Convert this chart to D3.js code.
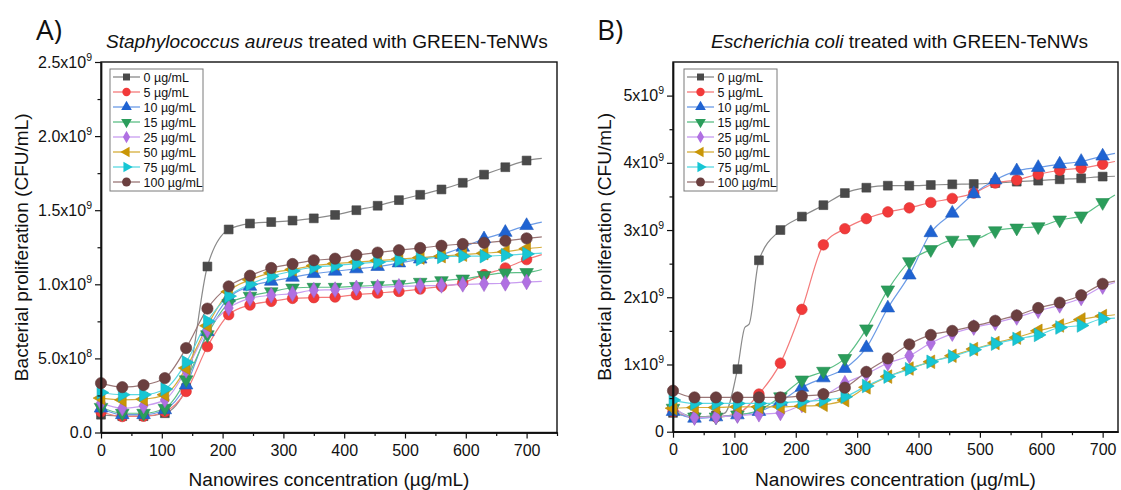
<!DOCTYPE html>
<html>
<head>
<meta charset="utf-8">
<script src="https://cdn.jsdelivr.net/npm/d3@7"></script>
<style>
  html, body { margin: 0; padding: 0; background: #fff; }
  svg { display: block; font-family: "Liberation Sans", Arial, sans-serif; }
</style>
</head>
<body>
<svg id="chart" width="1121" height="490"></svg>
<script>
// Nanowire concentrations where each growth curve carries a marker (µg/mL)
const concentrations = [0, 35, 70, 105, 140, 175, 210, 245, 280, 315, 350,
                        385, 420, 455, 490, 525, 560, 595, 630, 665, 700];
const doseLabels = ["0 µg/mL", "5 µg/mL", "10 µg/mL", "15 µg/mL",
                    "25 µg/mL", "50 µg/mL", "75 µg/mL", "100 µg/mL"];

// Staphylococcus aureus, bacterial proliferation in 10^9 CFU/mL
const aureus0   = [0.12, 0.11, 0.11, 0.13, 0.30, 1.12, 1.37, 1.41, 1.42, 1.43, 1.445, 1.468, 1.50, 1.53, 1.568, 1.604, 1.64, 1.685, 1.74, 1.79, 1.835];
const aureus5   = [0.14, 0.108, 0.11, 0.14, 0.277, 0.58, 0.795, 0.86, 0.885, 0.905, 0.91, 0.914, 0.93, 0.941, 0.952, 0.968, 0.986, 1.01, 1.065, 1.11, 1.167];
const aureus10  = [0.164, 0.12, 0.12, 0.153, 0.32, 0.68, 0.908, 0.986, 1.02, 1.047, 1.072, 1.088, 1.104, 1.12, 1.144, 1.17, 1.20, 1.25, 1.306, 1.35, 1.396];
const aureus15  = [0.17, 0.13, 0.13, 0.164, 0.356, 0.66, 0.87, 0.92, 0.95, 0.975, 0.98, 0.98, 0.986, 0.993, 1.00, 1.014, 1.025, 1.036, 1.06, 1.077, 1.08];
const aureus25  = [0.20, 0.164, 0.18, 0.22, 0.42, 0.69, 0.84, 0.905, 0.926, 0.937, 0.96, 0.964, 0.975, 0.98, 0.986, 0.99, 0.993, 1.00, 1.004, 1.007, 1.016];
const aureus50  = [0.232, 0.22, 0.225, 0.255, 0.435, 0.72, 0.95, 1.03, 1.077, 1.10, 1.126, 1.14, 1.15, 1.16, 1.17, 1.18, 1.19, 1.20, 1.21, 1.22, 1.24];
const aureus75  = [0.27, 0.255, 0.255, 0.293, 0.473, 0.75, 0.92, 1.00, 1.054, 1.09, 1.115, 1.126, 1.14, 1.149, 1.162, 1.17, 1.185, 1.19, 1.19, 1.196, 1.205];
const aureus100 = [0.333, 0.306, 0.32, 0.367, 0.57, 0.836, 0.986, 1.058, 1.11, 1.137, 1.162, 1.173, 1.198, 1.214, 1.23, 1.245, 1.26, 1.272, 1.28, 1.293, 1.31];
// last recorded reading of each S. aureus trace
const aureusTailX = 725;
const aureusTail = [1.85, 1.20, 1.42, 1.10, 1.02, 1.25, 1.21, 1.32];

// Escherichia coli, bacterial proliferation in 10^9 CFU/mL
const coli0   = [0.28, 0.22, 0.24, 0.93, 2.55, 3.00, 3.20, 3.37, 3.55, 3.63, 3.66, 3.66, 3.67, 3.68, 3.685, 3.70, 3.72, 3.735, 3.755, 3.77, 3.795];
const coli5   = [0.30, 0.22, 0.22, 0.27, 0.56, 1.02, 1.82, 2.78, 3.02, 3.17, 3.27, 3.33, 3.41, 3.47, 3.55, 3.70, 3.745, 3.83, 3.89, 3.92, 3.98];
const coli10  = [0.30, 0.20, 0.22, 0.25, 0.30, 0.45, 0.66, 0.80, 0.94, 1.25, 1.84, 2.33, 2.96, 3.25, 3.54, 3.745, 3.88, 3.93, 3.98, 4.02, 4.10];
const coli15  = [0.35, 0.22, 0.22, 0.25, 0.32, 0.52, 0.77, 0.90, 1.09, 1.53, 2.11, 2.53, 2.71, 2.85, 2.86, 2.99, 3.03, 3.05, 3.15, 3.21, 3.41];
const coli25  = [0.37, 0.21, 0.22, 0.24, 0.26, 0.28, 0.40, 0.53, 0.72, 0.86, 1.02, 1.13, 1.32, 1.46, 1.55, 1.62, 1.70, 1.80, 1.88, 1.99, 2.16];
const coli50  = [0.35, 0.36, 0.36, 0.37, 0.37, 0.37, 0.38, 0.40, 0.47, 0.66, 0.82, 0.94, 1.04, 1.13, 1.23, 1.32, 1.40, 1.50, 1.58, 1.67, 1.72];
const coli75  = [0.47, 0.42, 0.42, 0.42, 0.42, 0.43, 0.45, 0.47, 0.52, 0.68, 0.82, 0.93, 1.04, 1.12, 1.22, 1.31, 1.38, 1.44, 1.55, 1.58, 1.68];
const coli100 = [0.61, 0.51, 0.51, 0.51, 0.51, 0.51, 0.53, 0.56, 0.655, 0.89, 1.09, 1.30, 1.44, 1.50, 1.57, 1.65, 1.73, 1.84, 1.92, 2.03, 2.20];
const coliTailX = 720;
const coliTail = [3.80, 4.02, 4.14, 3.52, 2.22, 1.74, 1.69, 2.24];
// extra readings of the untreated E. coli trace around its two-step rise
const coli0Shoulder = [[85, 0.28], [117, 1.55], [124, 1.60]];

// y tick labels: mantissa and power of ten
const aureusYTicks = [0, 0.5, 1.0, 1.5, 2.0, 2.5];
const aureusYLabels = [["0.0", ""], ["5.0x10", "8"], ["1.0x10", "9"], ["1.5x10", "9"], ["2.0x10", "9"], ["2.5x10", "9"]];
const coliYTicks = [0, 1, 2, 3, 4, 5];
const coliYLabels = [["0", ""], ["1x10", "9"], ["2x10", "9"], ["3x10", "9"], ["4x10", "9"], ["5x10", "9"]];
const xTicks = [0, 100, 200, 300, 400, 500, 600, 700];

// series appearance
const styles = [
  { marker: "#4a4a4a", line: "#8a8a8a", shape: d3.symbolSquare,   rot: 0,   size: 78 },
  { marker: "#f23a3a", line: "#f47a7a", shape: d3.symbolCircle,   rot: 0,   size: 88 },
  { marker: "#1f63d2", line: "#6b9be6", shape: d3.symbolTriangle, rot: 0,   size: 80 },
  { marker: "#2b9d5b", line: "#5cbf86", shape: d3.symbolTriangle, rot: 180, size: 80 },
  { marker: "#b070e2", line: "#c89cf0", shape: d3.symbolDiamond,  rot: 0,   size: 72 },
  { marker: "#c99606", line: "#d6ad3a", shape: d3.symbolTriangle, rot: -90, size: 80 },
  { marker: "#17c6d4", line: "#5ad8e2", shape: d3.symbolTriangle, rot: 90,  size: 80 },
  { marker: "#6b3f3f", line: "#9a7676", shape: d3.symbolCircle,   rot: 0,   size: 100 }
];

const svg = d3.select("#chart");

// scale a text element's font so that it spans the given width
function fitText(sel, width, base) {
  const w = sel.node().getComputedTextLength();
  const size = base * width / w;
  sel.attr("font-size", size);
  return size;
}

function drawPanel(cfg) {
  const g = svg.append("g");
  const x = d3.scaleLinear().domain([0, cfg.xMax]).range([cfg.left, cfg.right]);
  const y = d3.scaleLinear().domain([0, cfg.yMax]).range([cfg.bottom, cfg.top]);

  // growth traces
  const line = d3.line().x(d => x(d[0])).y(d => y(d[1])).curve(d3.curveMonotoneX);
  cfg.series.forEach((vals, i) => {
    let pts = concentrations.map((c, j) => [c, vals[j]]);
    if (cfg.extra && cfg.extra[i]) pts = pts.concat(cfg.extra[i]);
    pts.push([cfg.tailX, cfg.tail[i]]);
    pts.sort((a, b) => a[0] - b[0]);
    g.append("path").attr("d", line(pts))
      .attr("fill", "none").attr("stroke", styles[i].line).attr("stroke-width", 1.2);
  });
  cfg.series.forEach((vals, i) => {
    const st = styles[i];
    const sym = d3.symbol().type(st.shape).size(st.size);
    g.append("g").selectAll("path").data(concentrations.map((c, j) => [c, vals[j]]))
      .join("path")
      .attr("d", sym)
      .attr("transform", d => `translate(${x(d[0])},${y(d[1])}) rotate(${st.rot})`)
      .attr("fill", st.marker)
      .attr("stroke", d3.color(st.marker).darker(0.3))
      .attr("stroke-width", 0.6);
  });

  // frame
  g.append("rect").attr("x", cfg.left).attr("y", cfg.top)
    .attr("width", cfg.right - cfg.left).attr("height", cfg.bottom - cfg.top)
    .attr("fill", "none").attr("stroke", "#111").attr("stroke-width", 1.4);

  // x axis
  const xMinor = d3.range(50, cfg.xMax + 1, 100);
  const xa = g.append("g").attr("transform", `translate(0,${cfg.bottom})`)
    .call(d3.axisBottom(x).tickValues(xTicks).tickSize(6).tickSizeOuter(0).tickPadding(6));
  g.append("g").attr("transform", `translate(0,${cfg.bottom})`)
    .call(d3.axisBottom(x).tickValues(xMinor).tickSize(3.5).tickSizeOuter(0).tickFormat(""));
  // y axis
  g.append("g").attr("transform", `translate(${cfg.left},0)`)
    .call(d3.axisLeft(y).tickValues(cfg.yTicks).tickSize(6).tickSizeOuter(0).tickFormat(""));
  g.append("g").attr("transform", `translate(${cfg.left},0)`)
    .call(d3.axisLeft(y).tickValues(cfg.yMinor).tickSize(3.5).tickSizeOuter(0).tickFormat(""));
  g.selectAll(".domain").attr("stroke", "#111").attr("stroke-width", 1.4);
  g.selectAll(".tick line").attr("stroke", "#111").attr("stroke-width", 1.2);
  xa.selectAll(".tick text").attr("font-size", 16).attr("fill", "#111")
    .attr("font-family", "Liberation Sans, Arial, sans-serif");

  // y tick labels with superscript exponent
  cfg.yTicks.forEach((v, i) => {
    const t = g.append("text").attr("x", cfg.left - 9).attr("y", y(v) + 5.5)
      .attr("text-anchor", "end").attr("font-size", 16).attr("fill", "#111");
    t.append("tspan").text(cfg.yLabels[i][0]);
    if (cfg.yLabels[i][1]) {
      t.append("tspan").attr("dy", -7).attr("font-size", 10.5).text(cfg.yLabels[i][1]);
    }
  });

  // axis titles
  const xt = g.append("text").attr("x", (cfg.left + cfg.right) / 2).attr("y", 486)
    .attr("text-anchor", "middle").attr("font-size", 18).attr("fill", "#111")
    .text("Nanowires concentration (µg/mL)");
  const axisTitleSize = fitText(xt, 281, 18);
  g.append("text")
    .attr("transform", `translate(${cfg.yTitleX},${(cfg.top + cfg.bottom) / 2}) rotate(-90)`)
    .attr("text-anchor", "middle").attr("font-size", axisTitleSize).attr("fill", "#111")
    .text("Bacterial proliferation (CFU/mL)");

  // panel letter and title
  g.append("text").attr("x", cfg.letterX).attr("y", 40)
    .attr("font-size", 28).attr("fill", "#111")
    .attr("font-family", "Open Sans, Liberation Sans, sans-serif").text(cfg.letter);
  const tt = g.append("text").attr("x", cfg.titleX).attr("y", 48)
    .attr("font-size", 18).attr("fill", "#111");
  tt.append("tspan").attr("font-style", "italic").text(cfg.species);
  tt.append("tspan").text(" treated with GREEN-TeNWs");
  const titleSize = cfg.titleSize ? cfg.titleSize : fitText(tt, cfg.titleWidth, 18);
  tt.attr("font-size", titleSize);

  // legend
  const lg = g.append("g").attr("transform", `translate(${cfg.legendX},${cfg.legendY})`);
  lg.append("rect").attr("x", 0).attr("y", 0).attr("width", 93).attr("height", 122)
    .attr("fill", "#fff").attr("stroke", "#7a7a7a").attr("stroke-width", 1);
  doseLabels.forEach((lab, i) => {
    const st = styles[i];
    const yy = 8 + i * 15;
    lg.append("line").attr("x1", 3).attr("x2", 30).attr("y1", yy).attr("y2", yy)
      .attr("stroke", st.line).attr("stroke-width", 1.3);
    lg.append("path").attr("d", d3.symbol().type(st.shape).size(st.size * 0.62))
      .attr("transform", `translate(16.5,${yy}) rotate(${st.rot})`)
      .attr("fill", st.marker);
    lg.append("text").attr("x", 33.5).attr("y", yy + 4.5)
      .attr("font-size", 12.5).attr("fill", "#111").text(lab);
  });
  return titleSize;
}

const panelTitleSize = drawPanel({
  left: 101, right: 557, top: 62, bottom: 432.5,
  xMax: 750, yMax: 2.5,
  yTicks: aureusYTicks, yLabels: aureusYLabels,
  yMinor: [0.25, 0.75, 1.25, 1.75, 2.25],
  series: [aureus0, aureus5, aureus10, aureus15, aureus25, aureus50, aureus75, aureus100],
  tailX: aureusTailX, tail: aureusTail,
  yTitleX: 28, letter: "A)", letterX: 36, titleX: 106, titleWidth: 442,
  species: "Staphylococcus aureus",
  legendX: 110, legendY: 69
});

drawPanel({
  left: 673, right: 1118, top: 62, bottom: 431.7,
  xMax: 725, yMax: 5.5,
  yTicks: coliYTicks, yLabels: coliYLabels,
  yMinor: [0.5, 1.5, 2.5, 3.5, 4.5],
  series: [coli0, coli5, coli10, coli15, coli25, coli50, coli75, coli100],
  extra: [coli0Shoulder],
  tailX: coliTailX, tail: coliTail,
  yTitleX: 611, letter: "B)", letterX: 597, titleX: 711, titleSize: panelTitleSize,
  species: "Escherichia coli",
  legendX: 684, legendY: 69
});
</script>
</body>
</html>
